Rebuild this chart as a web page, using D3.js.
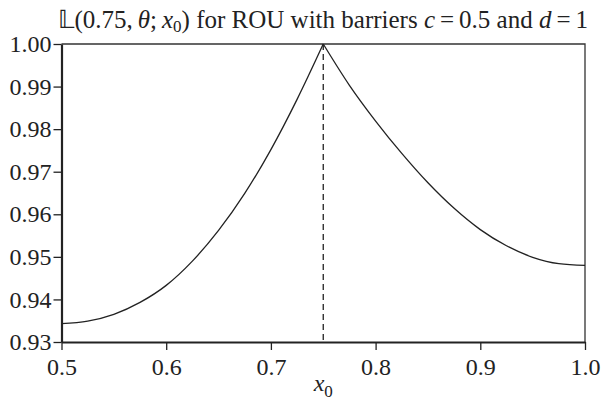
<!DOCTYPE html>
<html>
<head>
<meta charset="utf-8">
<script src="https://cdn.jsdelivr.net/npm/d3@7"></script>
<style>
  body { margin: 0; background: #fff; }
  svg { display: block; }
  .tick text { font-family: "Liberation Serif", "Times New Roman", serif; font-size: 24px; fill: #222; }
  .title, .xlabel { font-family: "Liberation Serif", "Times New Roman", serif; fill: #222; }
</style>
</head>
<body>
<svg id="chart" width="601" height="405"></svg>
<script>
// L(0.75, theta; x0) for ROU with barriers c = 0.5 and d = 1

const leftX = [0.5, 0.525, 0.55, 0.575, 0.6, 0.625, 0.65, 0.675, 0.7, 0.725, 0.75];
const leftY = [0.9343, 0.9349, 0.9365, 0.9393, 0.9433, 0.9490, 0.9562, 0.9649, 0.9752, 0.9870, 1.0];
const rightX = [0.75, 0.775, 0.8, 0.825, 0.85, 0.875, 0.9, 0.925, 0.95, 0.975, 1.0];
const rightY = [1.0, 0.9903, 0.9819, 0.9743, 0.9674, 0.9614, 0.9564, 0.9526, 0.9499, 0.9484, 0.9480];
const xTicks = [0.5, 0.6, 0.7, 0.8, 0.9, 1.0];
const yTicks = [0.93, 0.94, 0.95, 0.96, 0.97, 0.98, 0.99, 1.00];
const markerX = 0.75;

const margin = { left: 61.5, right: 16, top: 44, bottom: 63 };
const width = 601, height = 405;

const svg = d3.select('#chart');
const x = d3.scaleLinear().domain([0.5, 1.0]).range([margin.left, width - margin.right]);
const y = d3.scaleLinear().domain([0.93, 1.0]).range([height - margin.bottom, margin.top]);

// thin top and right frame
svg.append('path')
  .attr('d', `M${x(0.5)},${y(1)} H${x(1)} V${y(0.93)}`)
  .attr('fill', 'none')
  .attr('stroke', '#333')
  .attr('stroke-width', 1.3);

// dashed marker at x0 = 0.75
svg.append('line')
  .attr('x1', x(markerX)).attr('x2', x(markerX))
  .attr('y1', y(1)).attr('y2', y(0.93))
  .attr('stroke', '#222')
  .attr('stroke-width', 1.3)
  .attr('stroke-dasharray', '6,4');

const line = d3.line()
  .x(d => x(d[0]))
  .y(d => y(d[1]))
  .curve(d3.curveMonotoneX);

[[leftX, leftY], [rightX, rightY]].forEach(([xs, ys]) => {
  svg.append('path')
    .datum(xs.map((v, i) => [v, ys[i]]))
    .attr('d', line)
    .attr('fill', 'none')
    .attr('stroke', '#222')
    .attr('stroke-width', 1.3);
});

const xAxis = svg.append('g')
  .attr('transform', `translate(0,${y(0.93)})`)
  .call(d3.axisBottom(x).tickValues(xTicks).tickFormat(d3.format('.1f')).tickSizeInner(8).tickSizeOuter(0).tickPadding(8));

const yAxis = svg.append('g')
  .attr('transform', `translate(${x(0.5)},0)`)
  .call(d3.axisLeft(y).tickValues(yTicks).tickFormat(d3.format('.2f')).tickSizeInner(8).tickSizeOuter(0).tickPadding(2));

[xAxis, yAxis].forEach(g => {
  g.select('.domain').attr('stroke', '#222').attr('stroke-width', 2.2);
  g.selectAll('.tick line').attr('stroke', '#222').attr('stroke-width', 1.3);
});

// title
const title = svg.append('text')
  .attr('class', 'title')
  .attr('x', x(0.75))
  .attr('y', 28)
  .attr('text-anchor', 'middle')
  .style('font-size', '25px');
title.append('tspan').text('\u{1D543}(0.75,');
title.append('tspan').style('font-style', 'italic').text('\u2009θ');
title.append('tspan').text(';\u2009');
title.append('tspan').style('font-style', 'italic').text('x');
title.append('tspan').attr('dy', 4).style('font-size', '17px').text('0');
title.append('tspan').attr('dy', -4).text(') for ROU with barriers ');
title.append('tspan').style('font-style', 'italic').text('c');
title.append('tspan').text('\u2009=\u20090.5 and ');
title.append('tspan').style('font-style', 'italic').text('d');
title.append('tspan').text('\u2009=\u20091');

// x label
const xl = svg.append('text')
  .attr('class', 'xlabel')
  .attr('x', x(0.75))
  .attr('y', 391)
  .attr('text-anchor', 'middle')
  .style('font-size', '24px');
xl.append('tspan').style('font-style', 'italic').text('x');
xl.append('tspan').attr('dy', 6).style('font-size', '17px').text('0');
</script>
</body>
</html>
